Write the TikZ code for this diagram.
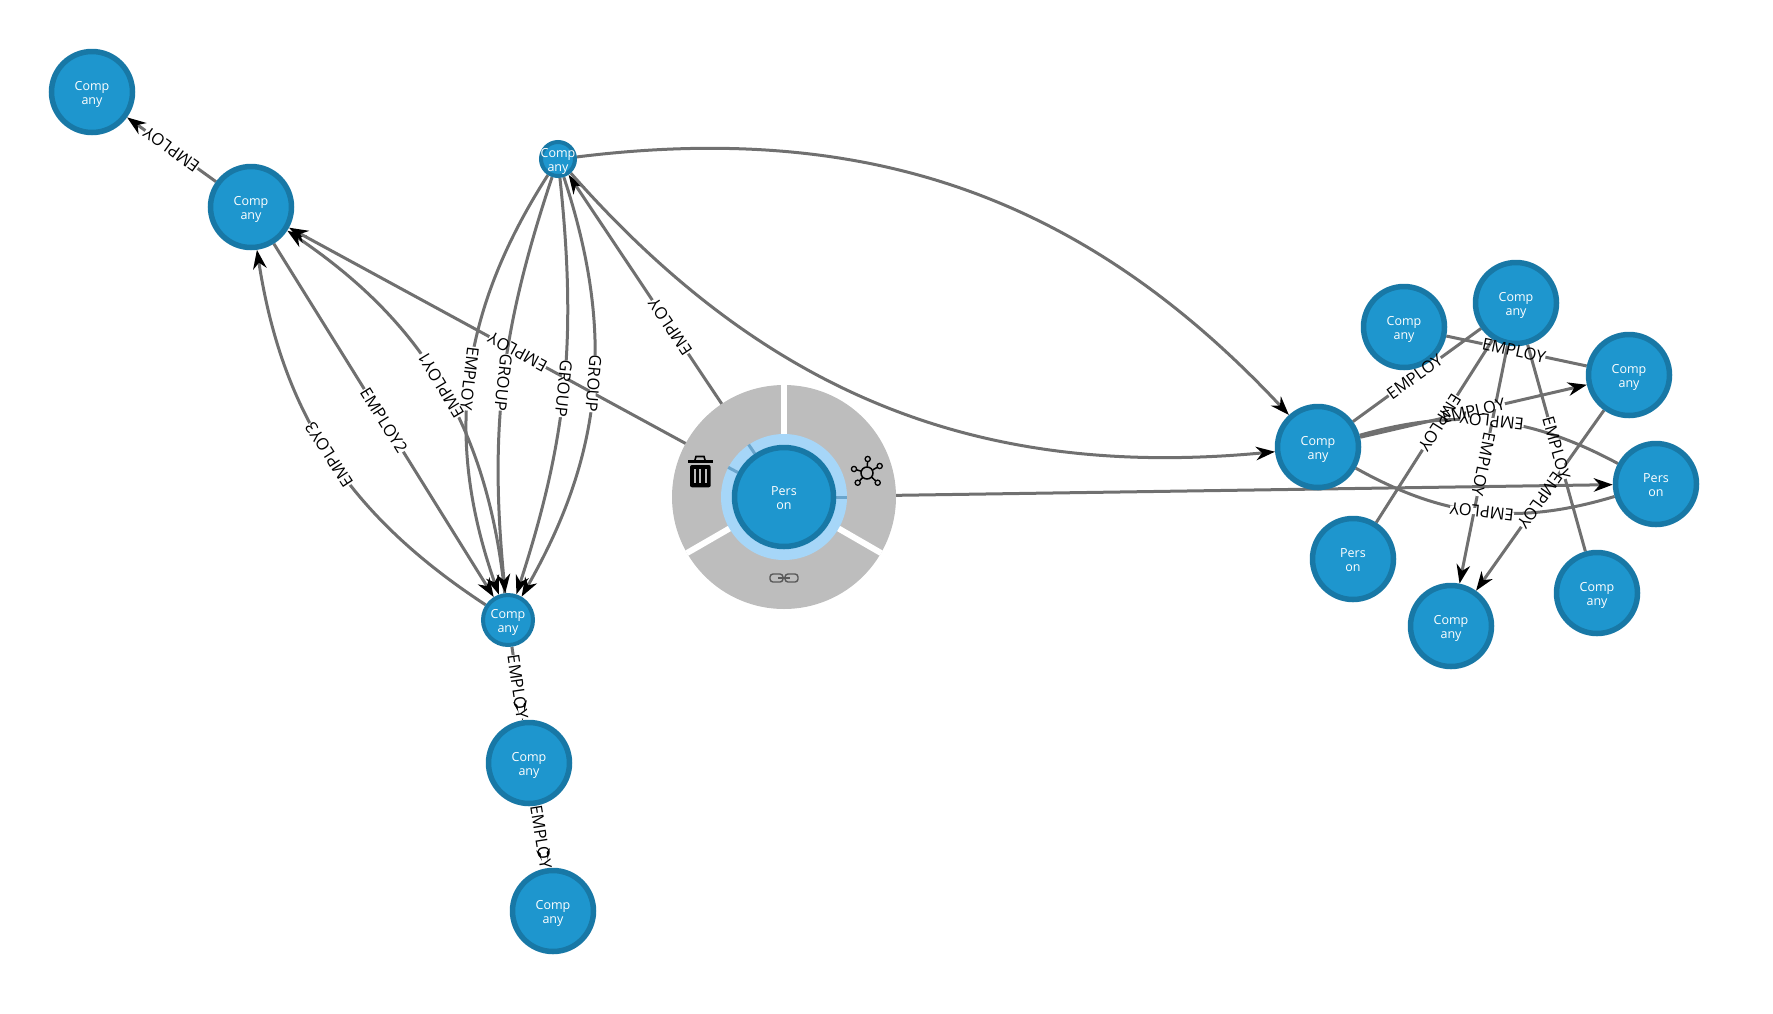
\documentclass[tikz,border=0pt]{standalone}
\usepackage{fontspec}
\setmainfont{Open Sans}
\usepackage{tikz}
\usetikzlibrary{arrows.meta,positioning}
\definecolor{nodefill}{HTML}{1E96CE}
\definecolor{noderim}{HTML}{1878A6}
\definecolor{halo}{HTML}{A6D6F8}
\definecolor{menugray}{HTML}{BDBDBD}
\definecolor{wiregray}{HTML}{707070}
\definecolor{spoke}{HTML}{6AA5CC}
\pgfdeclarelayer{edges}
\pgfdeclarelayer{menu}
\pgfsetlayers{edges,menu,main}
\tikzset{
ent/.style={circle,draw=noderim,fill=nodefill,line width=5.5pt,minimum size=81,inner sep=-15pt,
  text=white,align=center,font=\fontsize{12.5}{14.5}\selectfont},
wire/.style={draw=wiregray,line width=3pt},
tip/.style={-{Stealth[black,length=19pt,width=13.5pt,inset=6pt]}},
mask/.style={fill=white,inner sep=0pt,sloped,allow upside down,font=\fontsize{16.5}{18}\selectfont},
elabel/.style={inner sep=0pt,sloped,allow upside down,font=\fontsize{16.5}{18}\selectfont},
}
\begin{document}
\begin{tikzpicture}[x=1pt,y=1pt]
\useasboundingbox (0,0) rectangle (1773,-1013);
%
\foreach \x/\y/\n in {92/92/cmpA,251/207/cmpB,529/763/cmpD,553/911/cmpE,1318/447/cmpR,1404/327/cmpF,1516/303/cmpG,1629/375/cmpH,1451/626/cmpW,1597/593/cmpV}
\node[ent] (\n) at (\x,-\y) {\rule{0pt}{14pt}Comp\\any};
\node[ent,minimum size=34,line width=4pt] (cmpS) at (558,-159) {\rule{0pt}{14pt}Comp\\any};
\node[ent,minimum size=50,line width=4pt] (cmpC) at (508,-620) {\rule{0pt}{14pt}Comp\\any};
\foreach \x/\y/\n in {1656/484/perQ,1353/559/perU}
\node[ent] (\n) at (\x,-\y) {\rule{0pt}{11pt}Pers\\on};
\node[ent,minimum size=99] (perP) at (784,-497) {\rule{0pt}{11pt}Pers\\on};
%
\begin{pgfonlayer}{menu}
\node[circle,fill=menugray,minimum size=224,inner sep=0pt] (wheel) at (perP) {};
\foreach \a in {90,-30,210}\draw[white,line width=6pt] (perP.\a) -- (wheel.\a);
\node[circle,fill=halo,minimum size=126,inner sep=0pt] (ring) at (perP) {};
\foreach \a in {0,124,152}\draw[spoke,line width=3pt] (perP.\a) -- (ring.\a);
\end{pgfonlayer}
%
\foreach \a/\b/\c/\p/\t/\s in {
cmpB/cmpA/0/.5/EMPLOY/tip,
cmpC/cmpB/24/.5/EMPLOY3/tip,
cmpB/cmpC/0/.5/EMPLOY2/tip,
cmpC/cmpB/-25/.5/EMPLOY1/tip,
perP/cmpB/0/.49/EMPLOY/tip,
perP/cmpS/0/.45/EMPLOY/tip,
cmpS/cmpC/-26/.5/EMPLOY/tip,
cmpS/cmpC/-12/.5/GROUP/tip,
cmpS/cmpC/12/.5/GROUP/tip,
cmpS/cmpC/24/.48/GROUP/tip,
cmpC/cmpD/0/.55/EMPLOY/tip,
cmpD/cmpE/0/.5/EMPLOY/tip,
cmpR/cmpG/0/.48/EMPLOY/wire,
cmpF/cmpH/0/.48/EMPLOY/wire,
cmpG/perU/0/.45/EMPLOY/wire,
cmpG/cmpW/0/.5/EMPLOY/tip,
cmpH/cmpW/0/.5/EMPLOY/tip,
cmpG/cmpV/0/.5/EMPLOY/wire,
cmpR/cmpH/0/.5/EMPLOY/tip,
perQ/cmpR/-22/.5/EMPLOY/wire,
perQ/cmpR/23/.5/EMPLOY/wire}
{
\begin{pgfonlayer}{edges}
\draw[wire,\s] (\a) to[bend left=\c] node[mask,pos=\p] {\hphantom{\t}\rule[-3pt]{0pt}{6pt}} (\b);
\end{pgfonlayer}
\path (\a) to[bend left=\c] node[elabel,pos=\p] {\t} (\b);
}
\begin{pgfonlayer}{edges}
\draw[wire,tip] (cmpS) to[bend left=27] (cmpR);
\draw[wire,tip] (cmpS) to[bend right=27] (cmpR);
\draw[wire,tip] (perP) -- (perQ);
\end{pgfonlayer}
%
\begin{scope}[shift={(700,-472)}]
\fill[black] (-11.7,8.7) rectangle (12.7,12);
\draw[black,line width=1.6pt] (-5,12) -- (-4,15.5) -- (4,15.5) -- (5,12);
\fill[black,rounded corners=2pt] (-10,7) rectangle (10.7,-15.3);
\foreach \x in {-5,.3,5.6}\fill[menugray] (\x-1,3.5) rectangle (\x+1,-11);
\end{scope}
%
\begin{scope}[shift={(867,-473)}]
\draw[black,line width=1.5pt] (0,0) circle (6);
\foreach \x/\y in {.7/14,-13/4,12.7/7,-9.3/-9.7,10.7/-9.7}{
\draw[black,line width=1.5pt] (0,0)+(\x*.45,\y*.45) -- +(\x*.8,\y*.8);
\draw[black,line width=1.3pt] (\x,\y) circle (2.6);
}
\end{scope}
%
\begin{scope}[shift={(784,-578)}]
\draw[black!65,line width=1.4pt,rounded corners=3pt] (-1,-4) rectangle (-14,4);
\draw[black!65,line width=1.4pt,rounded corners=3pt] (1,-4) rectangle (14,4);
\draw[black!65,line width=1.4pt] (-6,0) -- (6,0);
\end{scope}
%
\end{tikzpicture}
\end{document}
